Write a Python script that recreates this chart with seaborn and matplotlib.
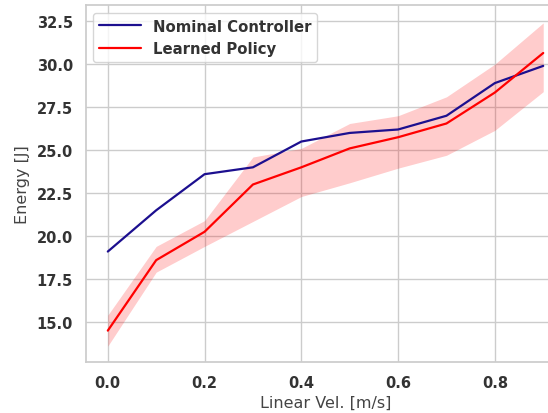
import numpy as np
import pandas as pd
import matplotlib
matplotlib.use("Agg")
import matplotlib.pyplot as plt
import seaborn as sns

# data
vel = [0.0, 0.1, 0.2, 0.3, 0.4, 0.5, 0.6, 0.7, 0.8, 0.9]
nominal = [19.1, 21.5, 23.6, 24.0, 25.5, 26.0, 26.2, 27.0, 28.9, 29.9]
learned = [14.5, 18.6, 20.25, 23.0, 24.0, 25.1, 25.75, 26.55, 28.35, 30.65]
learned_hi = [15.4, 19.4, 20.9, 24.6, 25.1, 26.55, 27.0, 28.1, 30.0, 32.4]
learned_lo = [13.6, 17.9, 19.4, 20.85, 22.3, 23.1, 23.95, 24.7, 26.15, 28.4]

sns.set_theme(style="whitegrid")
plt.rcParams['font.family'] = ['DejaVu Sans']

df = pd.DataFrame({
    'vel': vel * 2,
    'energy': nominal + learned,
    'policy': ['Nominal Controller'] * len(vel) + ['Learned Policy'] * len(vel),
})

fig = plt.figure(figsize=(5.48, 4.14), dpi=100)
# the original is cropped on the right, so the axes run past the figure edge
ax = fig.add_axes([0.157, 0.123, 0.874, 0.862])
sns.lineplot(data=df, x='vel', y='energy', hue='policy',
             palette={'Nominal Controller': '#1c0f8f', 'Learned Policy': 'red'},
             linewidth=1.6, ax=ax)
ax.fill_between(vel, learned_lo, learned_hi, color='red', alpha=0.2, linewidth=0)

ax.set_xlim(-0.045, 0.945)
ax.set_ylim(12.67, 33.43)
ax.set_xticks([0.0, 0.2, 0.4, 0.6, 0.8])
ax.set_yticks(np.arange(15.0, 33.0, 2.5))
ax.set_xticklabels([f"{t:.1f}" for t in ax.get_xticks()], fontweight='bold', fontsize=10.5, color='#333333')
ax.set_yticklabels([f"{t:.1f}" for t in ax.get_yticks()], fontweight='bold', fontsize=10.5, color='#333333')
ax.set_xlabel('Linear Vel. [m/s]', fontsize=11.5, color='#444444', labelpad=3)
ax.set_ylabel('Energy [J]', fontsize=11.5, color='#444444', labelpad=5)
for s in ax.spines.values():
    s.set_color('#cccccc')

leg = ax.legend(loc='upper left', prop={'weight': 'bold', 'size': 10.7},
                handlelength=2.8, frameon=True)
for t in leg.get_texts():
    t.set_color('#333333')

plt.savefig('out.png', dpi=100)
